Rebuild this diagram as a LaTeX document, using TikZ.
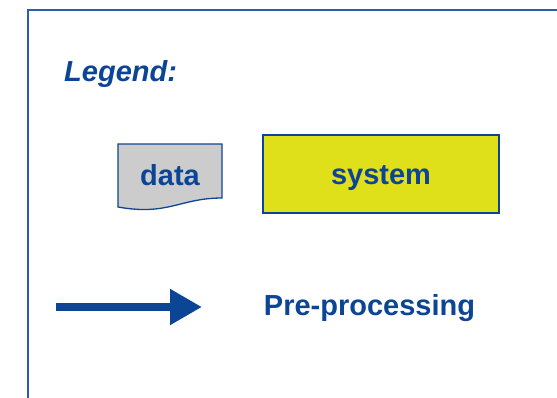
\documentclass[tikz,border=0pt]{standalone}
\usepackage{fontspec}
\setmainfont{Liberation Sans}
\usetikzlibrary{arrows.meta}
\definecolor{txtblue}{HTML}{0C4596}
\definecolor{frameblue}{HTML}{2B5FAD}
\definecolor{sysyellow}{HTML}{DFDF1A}
\definecolor{datagray}{HTML}{CCCCCC}
\tikzset{
  lbl/.style={text=txtblue, font=\fontsize{29}{33}\selectfont\bfseries, inner sep=0pt},
  framestyle/.style={draw=frameblue, line width=1.5pt},
  sysbox/.style={draw=txtblue, line width=1.5pt, fill=sysyellow, minimum width=236pt, minimum height=78pt, text height=21pt, text depth=0pt, inner sep=0pt, text=txtblue, font=\fontsize{29}{33}\selectfont\bfseries},
  docshape/.style={draw=txtblue, line width=1.3pt, fill=datagray},
  bigarrow/.style={draw=txtblue, line width=8pt, -{Triangle[length=32pt, width=34pt]}}
}
\begin{document}
\begin{tikzpicture}[x=1pt,y=-1pt]
\useasboundingbox (0,0) rectangle (557,397);
\fill[white] (0,0) rectangle (557,397);
% frame
\draw[framestyle] (28,400) -- (28,10) -- (560,10);
% legend title
\node[lbl, font=\fontsize{29}{33}\selectfont\bfseries\itshape, anchor=base west] (legend) at (64,81) {Legend:};
% data document shape
\draw[docshape] (118,144) -- (222,144) -- (222,198)
  .. controls (180,198) and (168,216) .. (118,207) -- cycle;
\node[lbl, anchor=base] (data) at (170,185) {data};
% system box
\node[sysbox] (sys) at (381,174) {system};
% arrow
\coordinate (a1) at (56,307);
\coordinate (a2) at (202,307);
\draw[bigarrow] (a1) -- (a2);
\node[lbl, anchor=base] (pre) at (369.5,315) {Pre-processing};
\end{tikzpicture}
\end{document}
